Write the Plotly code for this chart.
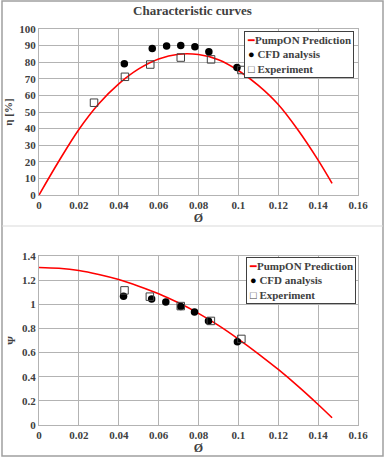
import plotly.graph_objects as go

# ---- data ----
phi_curve = [0, 0.01, 0.02, 0.03, 0.04, 0.05, 0.06, 0.07, 0.08, 0.09, 0.10, 0.11, 0.12, 0.13, 0.14, 0.147]
eta_curve = [0, 20.5, 39.5, 55, 67, 76, 82, 84.8, 84.6, 81.5, 75, 66, 54.5, 39, 21, 7]
psi_curve = [1.305, 1.298, 1.28, 1.247, 1.205, 1.15, 1.088, 1.012, 0.925, 0.825, 0.712, 0.59, 0.46, 0.32, 0.17, 0.06]

phi_cfd_eta = [0.0428, 0.0568, 0.064, 0.0711, 0.0782, 0.0852, 0.0993]
eta_cfd = [79, 88.2, 89.7, 90.1, 89.3, 86.3, 76.8]
phi_exp_eta = [0.0276, 0.0431, 0.0558, 0.0711, 0.0863, 0.1015]
eta_exp = [55.6, 71.2, 78.6, 82.8, 81.7, 75.3]

phi_cfd_psi = [0.0424, 0.0565, 0.0636, 0.0711, 0.078, 0.085, 0.0995]
psi_cfd = [1.066, 1.043, 1.018, 0.982, 0.937, 0.862, 0.69]
phi_exp_psi = [0.0429, 0.0556, 0.0711, 0.0862, 0.1015]
psi_exp = [1.115, 1.063, 0.985, 0.862, 0.713]

series_names = ["PumpON Prediction", "CFD analysis", "Experiment"]

x_ticks = [0, 0.02, 0.04, 0.06, 0.08, 0.1, 0.12, 0.14, 0.16]
x_labels = ["0", "0.02", "0.04", "0.06", "0.08", "0.1", "0.12", "0.14", "0.16"]
eta_ticks = [0, 10, 20, 30, 40, 50, 60, 70, 80, 90, 100]
psi_ticks = [0, 0.2, 0.4, 0.6, 0.8, 1.0, 1.2, 1.4]
psi_labels = ["0", "0.2", "0.4", "0.6", "0.8", "1", "1.2", "1.4"]

FONT = "Times New Roman, Liberation Serif, serif"
RED = "#ff0000"
GRID = "#b3b3b3"
TXT = "#404040"

fig = go.Figure()

def add_set(xa, ya, xc, yc, xcfd, ycfd, xexp, yexp):
    fig.add_trace(go.Scatter(x=xc, y=yc, mode="lines", name=series_names[0],
                             line=dict(color=RED, width=1.6, shape="spline"),
                             xaxis=xa, yaxis=ya, showlegend=False))
    fig.add_trace(go.Scatter(x=xcfd, y=ycfd, mode="markers", name=series_names[1],
                             marker=dict(color="black", size=7.5, symbol="circle"),
                             xaxis=xa, yaxis=ya, showlegend=False))
    fig.add_trace(go.Scatter(x=xexp, y=yexp, mode="markers", name=series_names[2],
                             marker=dict(color="rgba(0,0,0,0)", size=7.5, symbol="square",
                                         line=dict(color="#404040", width=1)),
                             xaxis=xa, yaxis=ya, showlegend=False))

add_set("x", "y", phi_curve, eta_curve, phi_cfd_eta, eta_cfd, phi_exp_eta, eta_exp)
add_set("x2", "y2", phi_curve, psi_curve, phi_cfd_psi, psi_cfd, phi_exp_psi, psi_exp)

tickfont = dict(family=FONT, size=11, color=TXT)
axis_common = dict(showgrid=True, gridcolor=GRID, gridwidth=1, showline=True,
                   linecolor=GRID, linewidth=1, mirror=True, zeroline=False,
                   tickfont=tickfont, ticks="", automargin=False)

fig.update_layout(
    width=385, height=458,
    margin=dict(l=39, r=27, t=29, b=33),
    paper_bgcolor="white", plot_bgcolor="white",
    font=dict(family=FONT, color=TXT),
    showlegend=False,
    title=dict(text="<b>Characteristic curves</b>", x=0.5, xref="container",
               y=0.977, yref="container", yanchor="middle",
               font=dict(family=FONT, size=13, color=TXT)),
    xaxis=dict(domain=[0, 1], anchor="y", range=[0, 0.16], tickvals=x_ticks,
               ticktext=["<b>%s</b>" % t for t in x_labels],
               title=dict(text="<b>Ø</b>", font=dict(family=FONT, size=12, color=TXT), standoff=2),
               **axis_common),
    yaxis=dict(domain=[0.5808, 1], anchor="x", range=[0, 100], tickvals=eta_ticks,
               ticktext=["<b>%d</b>" % t for t in eta_ticks],
               title=dict(text="<b>η [%]</b>", font=dict(family=FONT, size=11, color=TXT), standoff=4),
               **axis_common),
    xaxis2=dict(domain=[0, 1], anchor="y2", range=[0, 0.16], tickvals=x_ticks,
                ticktext=["<b>%s</b>" % t for t in x_labels],
                title=dict(text="<b>Ø</b>", font=dict(family=FONT, size=12, color=TXT), standoff=2),
                **axis_common),
    yaxis2=dict(domain=[0, 0.4268], anchor="x2", range=[0, 1.4], tickvals=psi_ticks,
                ticktext=["<b>%s</b>" % t for t in psi_labels],
                title=dict(text="<b>Ψ</b>", font=dict(family=FONT, size=11, color=TXT), standoff=4),
                **axis_common),
)

# pixel -> paper helpers (plot area spans x 39..358, y 29..425)
def px_x(p):
    return (p - 39) / 319.0

def px_y(p):
    return (425 - p) / 396.0

# legends as bordered text boxes
legend_text = ("<span style='color:#ff0000'>━</span><b>%s</b><br>"
               "<span style='color:#000000'>●</span> <b>%s</b><br>"
               "<span style='color:#404040'>□</span> <b>%s</b>") % tuple(series_names)
for xr, yt in [(354, 31), (356, 257)]:
    fig.add_annotation(xref="paper", yref="paper", x=px_x(xr), y=px_y(yt),
                       xanchor="right", yanchor="top", align="left", showarrow=False,
                       text=legend_text, bgcolor="white", bordercolor="#404040",
                       borderwidth=1, borderpad=2,
                       font=dict(family=FONT, size=11, color=TXT))

frame = "#a0a0a0"
fig.add_shape(type="rect", xref="paper", yref="paper",
              x0=px_x(2), x1=px_x(383), y0=px_y(456), y1=px_y(1),
              line=dict(color=frame, width=1.5))
fig.add_shape(type="line", xref="paper", yref="paper",
              x0=px_x(2), x1=px_x(383), y0=px_y(226), y1=px_y(226),
              line=dict(color="#d9d9d9", width=1))

fig.write_html("out.html", config={"displayModeBar": False},
               post_script="document.body.style.margin='0';document.body.style.overflow='hidden';")
